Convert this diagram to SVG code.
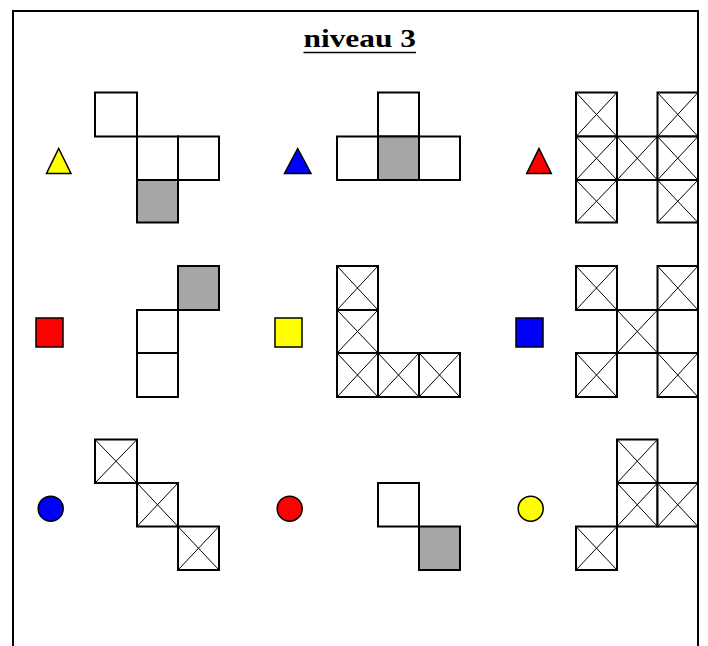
<svg xmlns="http://www.w3.org/2000/svg" width="708" height="646" viewBox="0 0 708 646">
<style>
.c{fill:#fff;stroke:#000;stroke-width:2}
.g{fill:#a6a6a6;stroke:#000;stroke-width:2}
.x{fill:none;stroke:#000;stroke-width:1}
.s{stroke:#000;stroke-width:1.5}
.t{font-family:"Liberation Serif","Times New Roman",serif;font-weight:bold;font-size:31px;fill:#000}
</style>
<rect x="0" y="0" width="708" height="646" fill="#fff"/>
<rect id="frame" x="13" y="11" width="685" height="700" fill="none" stroke="#000" stroke-width="2"/>
<g id="title">
<text class="t" x="303.5" y="0" transform="translate(0,46.7) scale(1,0.82)" textLength="112.5" lengthAdjust="spacingAndGlyphs">niveau 3</text>
<line x1="303.5" y1="52.5" x2="416" y2="52.5" stroke="#000" stroke-width="1.5"/>
</g>

<!-- row 1 -->
<g id="sym-r1c1"><polygon class="s" points="58.7,148.5 71,173.5 46.5,173.5" fill="#ffff00"/></g>
<g id="fig-r1c1">
<rect class="c" x="95" y="92.5" width="42" height="44"/>
<rect class="c" x="137" y="136.5" width="41" height="43.5"/>
<rect class="c" x="178" y="136.5" width="41" height="43.5"/>
<rect class="g" x="137" y="180" width="41" height="42.5"/>
</g>
<g id="sym-r1c2"><polygon class="s" points="297.7,148.5 311,173.5 284.5,173.5" fill="#0000ff"/></g>
<g id="fig-r1c2">
<rect class="c" x="378" y="92.5" width="41" height="44"/>
<rect class="c" x="337" y="136.5" width="41" height="43.5"/>
<rect class="g" x="378" y="136.5" width="41" height="43.5"/>
<rect class="c" x="419" y="136.5" width="41" height="43.5"/>
</g>
<g id="sym-r1c3"><polygon class="s" points="539,148.5 551.3,173.5 526.7,173.5" fill="#ff0000"/></g>
<g id="fig-r1c3">
<rect class="c" x="576" y="92.5" width="41" height="44"/><path class="x" d="M576,92.5L617,136.5M617,92.5L576,136.5"/>
<rect class="c" x="657.5" y="92.5" width="40.5" height="44"/><path class="x" d="M657.5,92.5L698,136.5M698,92.5L657.5,136.5"/>
<rect class="c" x="576" y="136.5" width="41" height="43.5"/><path class="x" d="M576,136.5L617,180M617,136.5L576,180"/>
<rect class="c" x="617" y="136.5" width="40.5" height="43.5"/><path class="x" d="M617,136.5L657.5,180M657.5,136.5L617,180"/>
<rect class="c" x="657.5" y="136.5" width="40.5" height="43.5"/><path class="x" d="M657.5,136.5L698,180M698,136.5L657.5,180"/>
<rect class="c" x="576" y="180" width="41" height="42.5"/><path class="x" d="M576,180L617,222.5M617,180L576,222.5"/>
<rect class="c" x="657.5" y="180" width="40.5" height="42.5"/><path class="x" d="M657.5,180L698,222.5M698,180L657.5,222.5"/>
</g>

<!-- row 2 -->
<g id="sym-r2c1"><rect class="s" x="36" y="318" width="27" height="29" fill="#ff0000"/></g>
<g id="fig-r2c1">
<rect class="g" x="178" y="266" width="41" height="44"/>
<rect class="c" x="137" y="310" width="41" height="43"/>
<rect class="c" x="137" y="353" width="41" height="44"/>
</g>
<g id="sym-r2c2"><rect class="s" x="275" y="318" width="27" height="29" fill="#ffff00"/></g>
<g id="fig-r2c2">
<rect class="c" x="337" y="266" width="41" height="44"/><path class="x" d="M337,266L378,310M378,266L337,310"/>
<rect class="c" x="337" y="310" width="41" height="43"/><path class="x" d="M337,310L378,353M378,310L337,353"/>
<rect class="c" x="337" y="353" width="41" height="44"/><path class="x" d="M337,353L378,397M378,353L337,397"/>
<rect class="c" x="378" y="353" width="41" height="44"/><path class="x" d="M378,353L419,397M419,353L378,397"/>
<rect class="c" x="419" y="353" width="41" height="44"/><path class="x" d="M419,353L460,397M460,353L419,397"/>
</g>
<g id="sym-r2c3"><rect class="s" x="516" y="318" width="27" height="29" fill="#0000ff"/></g>
<g id="fig-r2c3">
<rect class="c" x="576" y="266" width="41" height="44"/><path class="x" d="M576,266L617,310M617,266L576,310"/>
<rect class="c" x="657.5" y="266" width="40.5" height="44"/><path class="x" d="M657.5,266L698,310M698,266L657.5,310"/>
<rect class="c" x="617" y="310" width="40.5" height="43"/><path class="x" d="M617,310L657.5,353M657.5,310L617,353"/>
<rect class="c" x="576" y="353" width="41" height="44"/><path class="x" d="M576,353L617,397M617,353L576,397"/>
<rect class="c" x="657.5" y="353" width="40.5" height="44"/><path class="x" d="M657.5,353L698,397M698,353L657.5,397"/>
</g>

<!-- row 3 -->
<g id="sym-r3c1"><circle class="s" cx="50.7" cy="508.7" r="12.5" fill="#0000ff"/></g>
<g id="fig-r3c1">
<rect class="c" x="95" y="439.5" width="42" height="43.5"/><path class="x" d="M95,439.5L137,483M137,439.5L95,483"/>
<rect class="c" x="137" y="483" width="41" height="43.5"/><path class="x" d="M137,483L178,526.5M178,483L137,526.5"/>
<rect class="c" x="178" y="526.5" width="41" height="43.5"/><path class="x" d="M178,526.5L219,570M219,526.5L178,570"/>
</g>
<g id="sym-r3c2"><circle class="s" cx="289.7" cy="508.7" r="12.5" fill="#ff0000"/></g>
<g id="fig-r3c2">
<rect class="c" x="378" y="483" width="41" height="43.5"/>
<rect class="g" x="419" y="526.5" width="41" height="43.5"/>
</g>
<g id="sym-r3c3"><circle class="s" cx="530.7" cy="508.7" r="12.5" fill="#ffff00"/></g>
<g id="fig-r3c3">
<rect class="c" x="617" y="439.5" width="40.5" height="43.5"/><path class="x" d="M617,439.5L657.5,483M657.5,439.5L617,483"/>
<rect class="c" x="617" y="483" width="40.5" height="43.5"/><path class="x" d="M617,483L657.5,526.5M657.5,483L617,526.5"/>
<rect class="c" x="657.5" y="483" width="40.5" height="43.5"/><path class="x" d="M657.5,483L698,526.5M698,483L657.5,526.5"/>
<rect class="c" x="576" y="526.5" width="41" height="43.5"/><path class="x" d="M576,526.5L617,570M617,526.5L576,570"/>
</g>
<g id="connectors"></g>
</svg>
